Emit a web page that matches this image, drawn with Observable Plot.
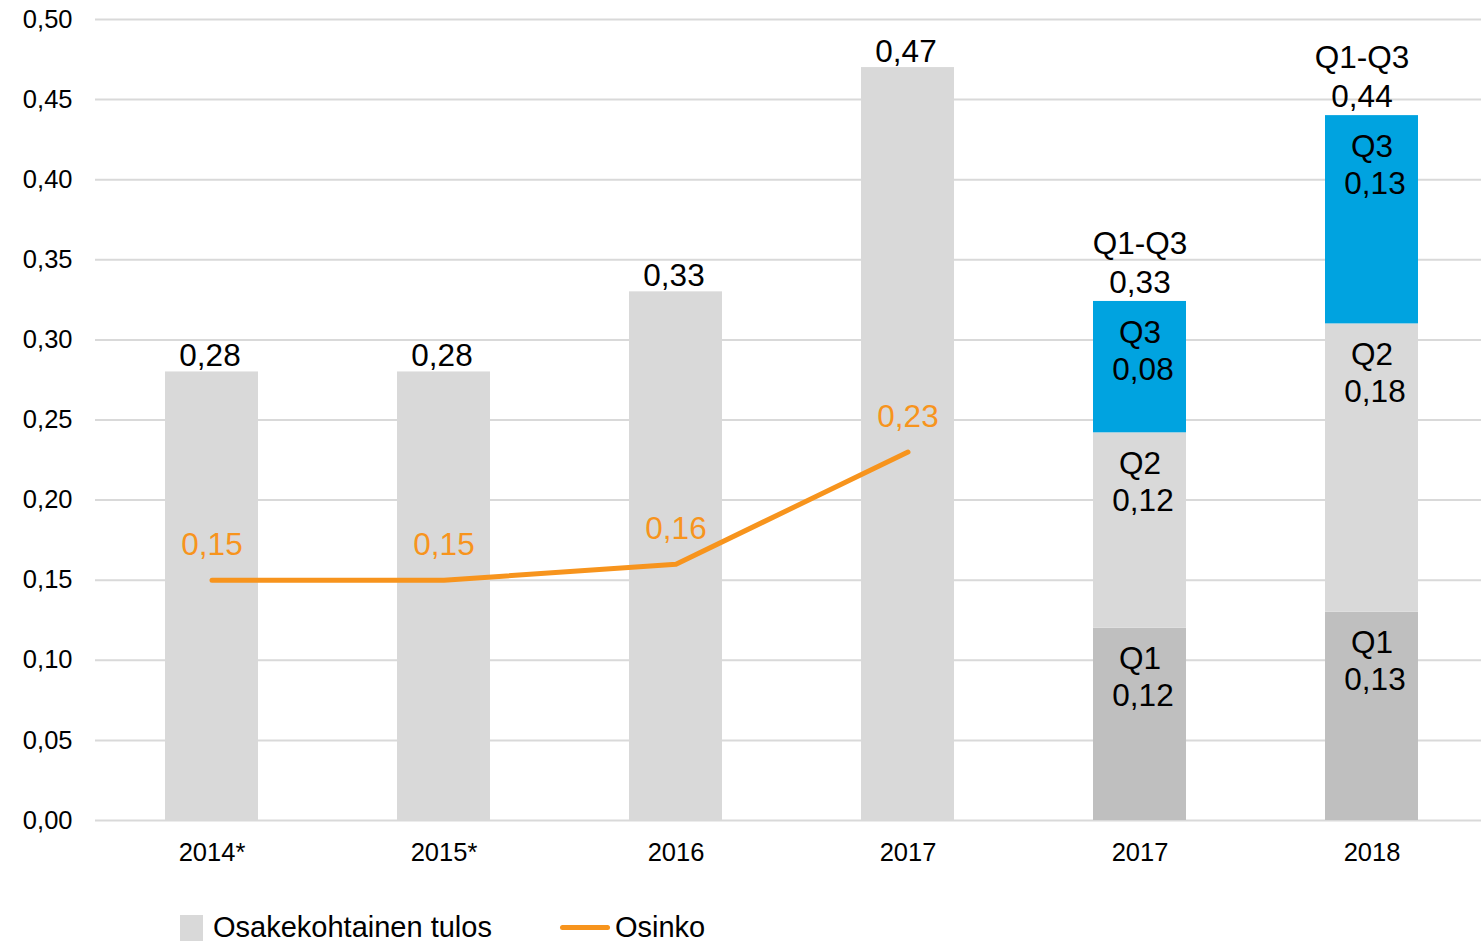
<!DOCTYPE html>
<html><head><meta charset="utf-8">
<script src="https://cdn.jsdelivr.net/npm/d3@7"></script>
<script src="https://cdn.jsdelivr.net/npm/@observablehq/plot@0.6"></script>
<style>
body{margin:0;background:#fff;font-family:"Liberation Sans",Arial,sans-serif;}
#wrap{position:relative;width:1481px;height:941px;}
#legend{position:absolute;left:180px;top:911px;display:flex;align-items:center;font-size:29px;color:#000;}
.sw{width:23px;height:26px;background:#d9d9d9;margin-right:10px;}
.ln{width:50px;height:5px;background:#f7941d;border-radius:3px;margin-left:68px;margin-right:5px;}
</style></head>
<body><div id="wrap"><div id="chart"></div>
<div id="legend"><div class="sw"></div><span>Osakekohtainen tulos</span><div class="ln"></div><span>Osinko</span></div></div>
<script>
const categories = ["2014*","2015*","2016","2017","2017 ","2018"];
const annualCats = ["2014*","2015*","2016","2017"];
const annualEps = [0.28,0.28,0.33,0.47];
const dividend = [0.15,0.15,0.16,0.23];
const quarterCats = ["2017 ","2018"];
const quarterNames = ["Q1","Q2","Q3"];
const q2017 = [0.12,0.122,0.082];
const q2018 = [0.13,0.18,0.13];
const q2017Labels = ["0,12","0,12","0,08"];
const q2018Labels = ["0,13","0,18","0,13"];
const totalLabels = ["0,33","0,44"];
const yTicks = [0,0.05,0.1,0.15,0.2,0.25,0.3,0.35,0.4,0.45,0.5];

const fmt = d => d.toFixed(2).replace(".",",");
const quarterColors = {"Q1":"#bfbfbf","Q2":"#d9d9d9","Q3":"#00a3e0"};

const annual = annualCats.map((c,i)=>({cat:c, v:annualEps[i], d:dividend[i]}));
const segs = [];
const totals = [];
[[q2017,q2017Labels],[q2018,q2018Labels]].forEach(([vals,labs],k)=>{
  let acc=0;
  vals.forEach((v,i)=>{
    segs.push({cat:quarterCats[k], q:quarterNames[i], y1:acc, y2:acc+v, label:labs[i]});
    acc+=v;
  });
  totals.push({cat:quarterCats[k], top:acc, label:totalLabels[k]});
});
const totals2017 = totals.filter(d=>d.cat==="2017 ");
const totals2018 = totals.filter(d=>d.cat==="2018");

const chart = Plot.plot({
  width:1481, height:880,
  marginLeft:95, marginRight:0, marginTop:19, marginBottom:60,
  style:{fontFamily:"Liberation Sans, Arial, sans-serif", fontSize:"25px", color:"#000", background:"#fff"},
  x:{domain:categories, range:[95,1488], paddingInner:0.6, paddingOuter:0.3, label:null},
  y:{domain:[0,0.5], label:null},
  marks:[
    Plot.ruleY(yTicks, {stroke:"#d9d9d9", strokeWidth:2}),
    Plot.axisY({ticks:yTicks, tickFormat:fmt, tickSize:0, tickPadding:23, fontSize:25.5, label:null}),
    Plot.axisX({tickSize:0, tickPadding:22, fontSize:25.5, tickFormat:d=>d.trim(), label:null}),
    Plot.barY(annual, {x:"cat", y:"v", fill:"#d9d9d9"}),
    Plot.barY(segs, {x:"cat", y1:"y1", y2:"y2", fill:d=>quarterColors[d.q]}),
    Plot.text(annual, {x:"cat", y:"v", text:d=>fmt(d.v), lineAnchor:"bottom", dy:-6, dx:-2, fontSize:31.5, fill:"#000"}),
    Plot.lineY(annual, {x:"cat", y:"d", stroke:"#f7941d", strokeWidth:5, strokeLinecap:"round", strokeLinejoin:"round"}),
    Plot.text(annual, {x:"cat", y:"d", text:d=>fmt(d.d), dy:-35, fontSize:31.5, fill:"#f7941d"}),
    Plot.text(segs, {x:"cat", y:"y2", text:"q", dy:31, fontSize:31.5, fill:"#000"}),
    Plot.text(segs, {x:"cat", y:"y2", text:"label", dy:68, dx:3, fontSize:31.5, fill:"#000"}),
    Plot.text(totals2017, {x:"cat", y:"top", text:"label", dy:-19, fontSize:31.5, fill:"#000"}),
    Plot.text(totals2017, {x:"cat", y:"top", text:()=>"Q1-Q3", dy:-58, fontSize:31.5, fill:"#000"}),
    Plot.text(totals2018, {x:"cat", y:"top", text:"label", dy:-19, dx:-10, fontSize:31.5, fill:"#000"}),
    Plot.text(totals2018, {x:"cat", y:"top", text:()=>"Q1-Q3", dy:-58, dx:-10, fontSize:31.5, fill:"#000"})
  ]
});
document.getElementById("chart").appendChild(chart);
</script></body></html>
